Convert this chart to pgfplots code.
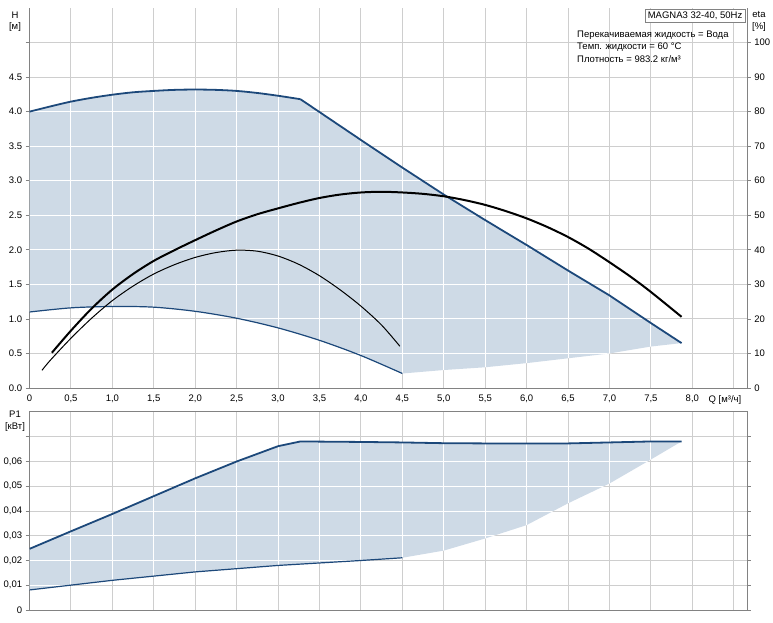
\documentclass[border=0pt]{standalone}
\usepackage{fontspec}
\setmainfont{Liberation Sans}
\usepackage{pgfplots}
\pgfplotsset{compat=1.18}
\definecolor{fillc}{RGB}{206,218,230}
\definecolor{linec}{RGB}{28,72,122}
\definecolor{gridc}{RGB}{206,206,206}
\definecolor{axc}{RGB}{130,130,130}
\newcommand{\whitegridtop}{%
 \foreach \xx in {0.5,1,...,8.5}{\pgfsetstrokecolor{white}\pgfsetlinewidth{0.9pt}\pgfpathmoveto{\pgfplotspointaxisxy{\xx}{0}}\pgfpathlineto{\pgfplotspointaxisxy{\xx}{5.5}}\pgfusepath{stroke}}%
 \foreach \yy in {0.5,1,...,5}{\pgfsetstrokecolor{white}\pgfsetlinewidth{0.9pt}\pgfpathmoveto{\pgfplotspointaxisxy{0}{\yy}}\pgfpathlineto{\pgfplotspointaxisxy{8.66}{\yy}}\pgfusepath{stroke}}%
}
\newcommand{\whitegridbot}{%
 \foreach \xx in {0.5,1,...,8.5}{\pgfsetstrokecolor{white}\pgfsetlinewidth{0.9pt}\pgfpathmoveto{\pgfplotspointaxisxy{\xx}{0}}\pgfpathlineto{\pgfplotspointaxisxy{\xx}{0.08}}\pgfusepath{stroke}}%
 \foreach \yy in {0.01,0.02,0.03,0.04,0.05,0.06,0.07}{\pgfsetstrokecolor{white}\pgfsetlinewidth{0.9pt}\pgfpathmoveto{\pgfplotspointaxisxy{0}{\yy}}\pgfpathlineto{\pgfplotspointaxisxy{8.66}{\yy}}\pgfusepath{stroke}}%
}
\begin{document}
\fontsize{9.5}{11}\selectfont
\begin{tikzpicture}
\useasboundingbox (0pt,0pt) rectangle (773pt,622pt);
\pgfplotsset{
  common/.style={
    scale only axis, width=717.5pt, xmin=0, xmax=8.66,
    disabledatascaling,
    /pgf/number format/assume math mode=true,
    tick align=outside, major tick length=4pt,
    tick style={axc, line width=0.8pt},
    axis line style={axc, line width=1pt, -},
  },
}
% ---------- top axis: H ----------
\begin{axis}[common,
  at={(29.5pt,234pt)}, anchor=south west, height=380pt,
  ymin=0, ymax=5.5,
  axis x line*=bottom, axis y line*=left,
  xtick={0,0.5,...,8.5},
  xticklabels={0,{0,5},{1,0},{1,5},{2,0},{2,5},{3,0},{3,5},{4,0},{4,5},{5,0},{5,5},{6,0},{6,5},{7,0},{7,5},{8,0},{}},
  xtick style={draw=none},
  ytick={0,0.5,1,1.5,2,2.5,3,3.5,4,4.5,5},
  yticklabels={0.0,0.5,1.0,1.5,2.0,2.5,3.0,3.5,4.0,4.5,{}},
  grid=major, grid style={gridc, line width=0.9pt},
]
\addplot[fill=fillc, draw=none, path picture={\whitegridtop}] coordinates {
 (0,4.00) (0.25,4.075) (0.5,4.145) (0.75,4.20) (1.0,4.245) (1.25,4.28) (1.5,4.30) (1.75,4.315) (2.0,4.32) (2.25,4.315) (2.5,4.30) (2.75,4.27) (3.0,4.23) (3.27,4.18)
 (4.0,3.59) (4.5,3.19) (5.0,2.80) (5.5,2.43) (6.0,2.07) (6.5,1.70) (7.0,1.34) (7.5,0.94) (7.87,0.65)
 (7.5,0.60) (7.0,0.50) (6.5,0.43) (6.0,0.36) (5.5,0.30) (5.0,0.26) (4.5,0.21)
 (4.0,0.47) (3.5,0.69) (3.0,0.87) (2.5,1.01) (2.0,1.11) (1.5,1.17) (1.0,1.18) (0.5,1.16) (0,1.10)
} -- cycle;
\addplot[linec, line width=1.8pt, smooth] coordinates {
 (0,4.00) (0.25,4.075) (0.5,4.145) (0.75,4.20) (1.0,4.245) (1.25,4.28) (1.5,4.30) (1.75,4.315) (2.0,4.32) (2.25,4.315) (2.5,4.30) (2.75,4.27) (3.0,4.23) (3.27,4.18)};
\addplot[linec, line width=1.8pt] coordinates {
 (3.27,4.18) (4.0,3.59) (4.5,3.19) (5.0,2.80) (5.5,2.43) (6.0,2.07) (6.5,1.70) (7.0,1.34) (7.5,0.94) (7.87,0.65)};
\addplot[linec, line width=1.2pt, smooth] coordinates {
 (0,1.10) (0.5,1.16) (1.0,1.18) (1.5,1.17) (2.0,1.11) (2.5,1.01) (3.0,0.87) (3.5,0.69) (4.0,0.47) (4.5,0.21)};
\end{axis}
% ---------- top axis: eta ----------
\begin{axis}[common,
  at={(29.5pt,234pt)}, anchor=south west, height=380pt,
  ymin=0, ymax=110,
  axis y line*=right, axis x line=none,
  ytick={0,10,...,100},
]
\addplot[black, line width=2pt, smooth] coordinates {
 (0.27,10.2) (0.5,16.6) (0.75,23.0) (1.0,28.5) (1.25,33.0) (1.5,36.8) (1.75,39.9) (2.0,42.8) (2.25,45.6) (2.5,48.2) (2.75,50.3) (3.0,52.0) (3.25,53.6) (3.5,55.0) (3.75,56.0) (4.0,56.6) (4.25,56.8) (4.5,56.6) (4.75,56.2) (5.0,55.5) (5.25,54.4) (5.5,53.0) (5.75,51.2) (6.0,49.1) (6.25,46.6) (6.5,43.7) (6.75,40.3) (7.0,36.4) (7.25,32.3) (7.5,27.8) (7.87,20.6)};
\addplot[black, line width=1pt, smooth] coordinates {
 (0.15,5.1) (0.25,8.0) (0.5,14.4) (0.75,20.2) (1.0,25.3) (1.25,29.5) (1.5,33.0) (1.75,35.7) (2.0,37.8) (2.25,39.2) (2.5,39.9) (2.75,39.6) (3.0,38.2) (3.25,35.8) (3.5,32.5) (3.75,28.4) (4.0,23.7) (4.25,18.2) (4.47,12.1)};
\end{axis}
% ---------- bottom axis: P1 ----------
\begin{axis}[common,
  at={(29.5pt,12pt)}, anchor=south west, height=198pt,
  ymin=0, ymax=0.08, scaled y ticks=false,
  xtick={0,0.5,...,8.5}, xticklabels={}, xtick style={draw=none},
  ytick={0,0.01,0.02,0.03,0.04,0.05,0.06,0.07},
  yticklabels={0,{0,01},{0,02},{0,03},{0,04},{0,05},{0,06},{}},
  grid=major, grid style={gridc, line width=0.9pt},
]
\addplot[fill=fillc, draw=none, path picture={\whitegridbot}] coordinates {
 (0,0.0247) (0.5,0.0318) (1.0,0.0388) (1.5,0.0460) (2.0,0.0532) (2.5,0.0600) (3.0,0.0662) (3.27,0.0681)
 (4.0,0.0679) (4.5,0.0677) (5.0,0.0674) (5.5,0.0673) (6.0,0.0673) (6.5,0.0673) (7.0,0.0677) (7.5,0.0681) (7.87,0.0681)
 (7.5,0.0608) (7.0,0.0511) (6.5,0.0431) (6.0,0.0343) (5.5,0.0289) (5.0,0.0240) (4.5,0.0211)
 (4.0,0.0200) (3.0,0.0180) (2.0,0.0154) (1.0,0.0120) (0,0.0081)
} -- cycle;
\addplot[linec, line width=1.8pt] coordinates {
 (0,0.0247) (0.5,0.0318) (1.0,0.0388) (1.5,0.0460) (2.0,0.0532) (2.5,0.0600) (3.0,0.0662) (3.27,0.0681)
 (4.0,0.0679) (4.5,0.0677) (5.0,0.0674) (5.5,0.0673) (6.0,0.0673) (6.5,0.0673) (7.0,0.0677) (7.5,0.0681) (7.87,0.0681)};
\addplot[linec, line width=1.2pt] coordinates {
 (0,0.0081) (1.0,0.0120) (2.0,0.0154) (3.0,0.0180) (4.0,0.0200) (4.5,0.0211)};
\end{axis}
% ---------- texts ----------
\node at (15pt,607pt) {H};
\node at (15pt,595pt) {[м]};
\node at (759pt,608pt) {eta};
\node at (759pt,595pt) {[\%]};
\node at (15pt,208pt) {P1};
\node at (15pt,195pt) {[кВт]};
\node at (725pt,222pt) {Q [м³/ч]};
\node[draw=axc, fill=white, inner sep=2.5pt, anchor=north east] at (745pt,613pt) {MAGNA3 32-40, 50Hz};
\node[anchor=west, inner sep=0pt] at (577pt,587pt) {Перекачиваемая жидкость = Вода};
\node[anchor=west, inner sep=0pt] at (577pt,575pt) {Темп. жидкости = 60 °C};
\node[anchor=west, inner sep=0pt] at (577pt,563pt) {Плотность = 983.2 кг/м³};
\end{tikzpicture}
\end{document}
